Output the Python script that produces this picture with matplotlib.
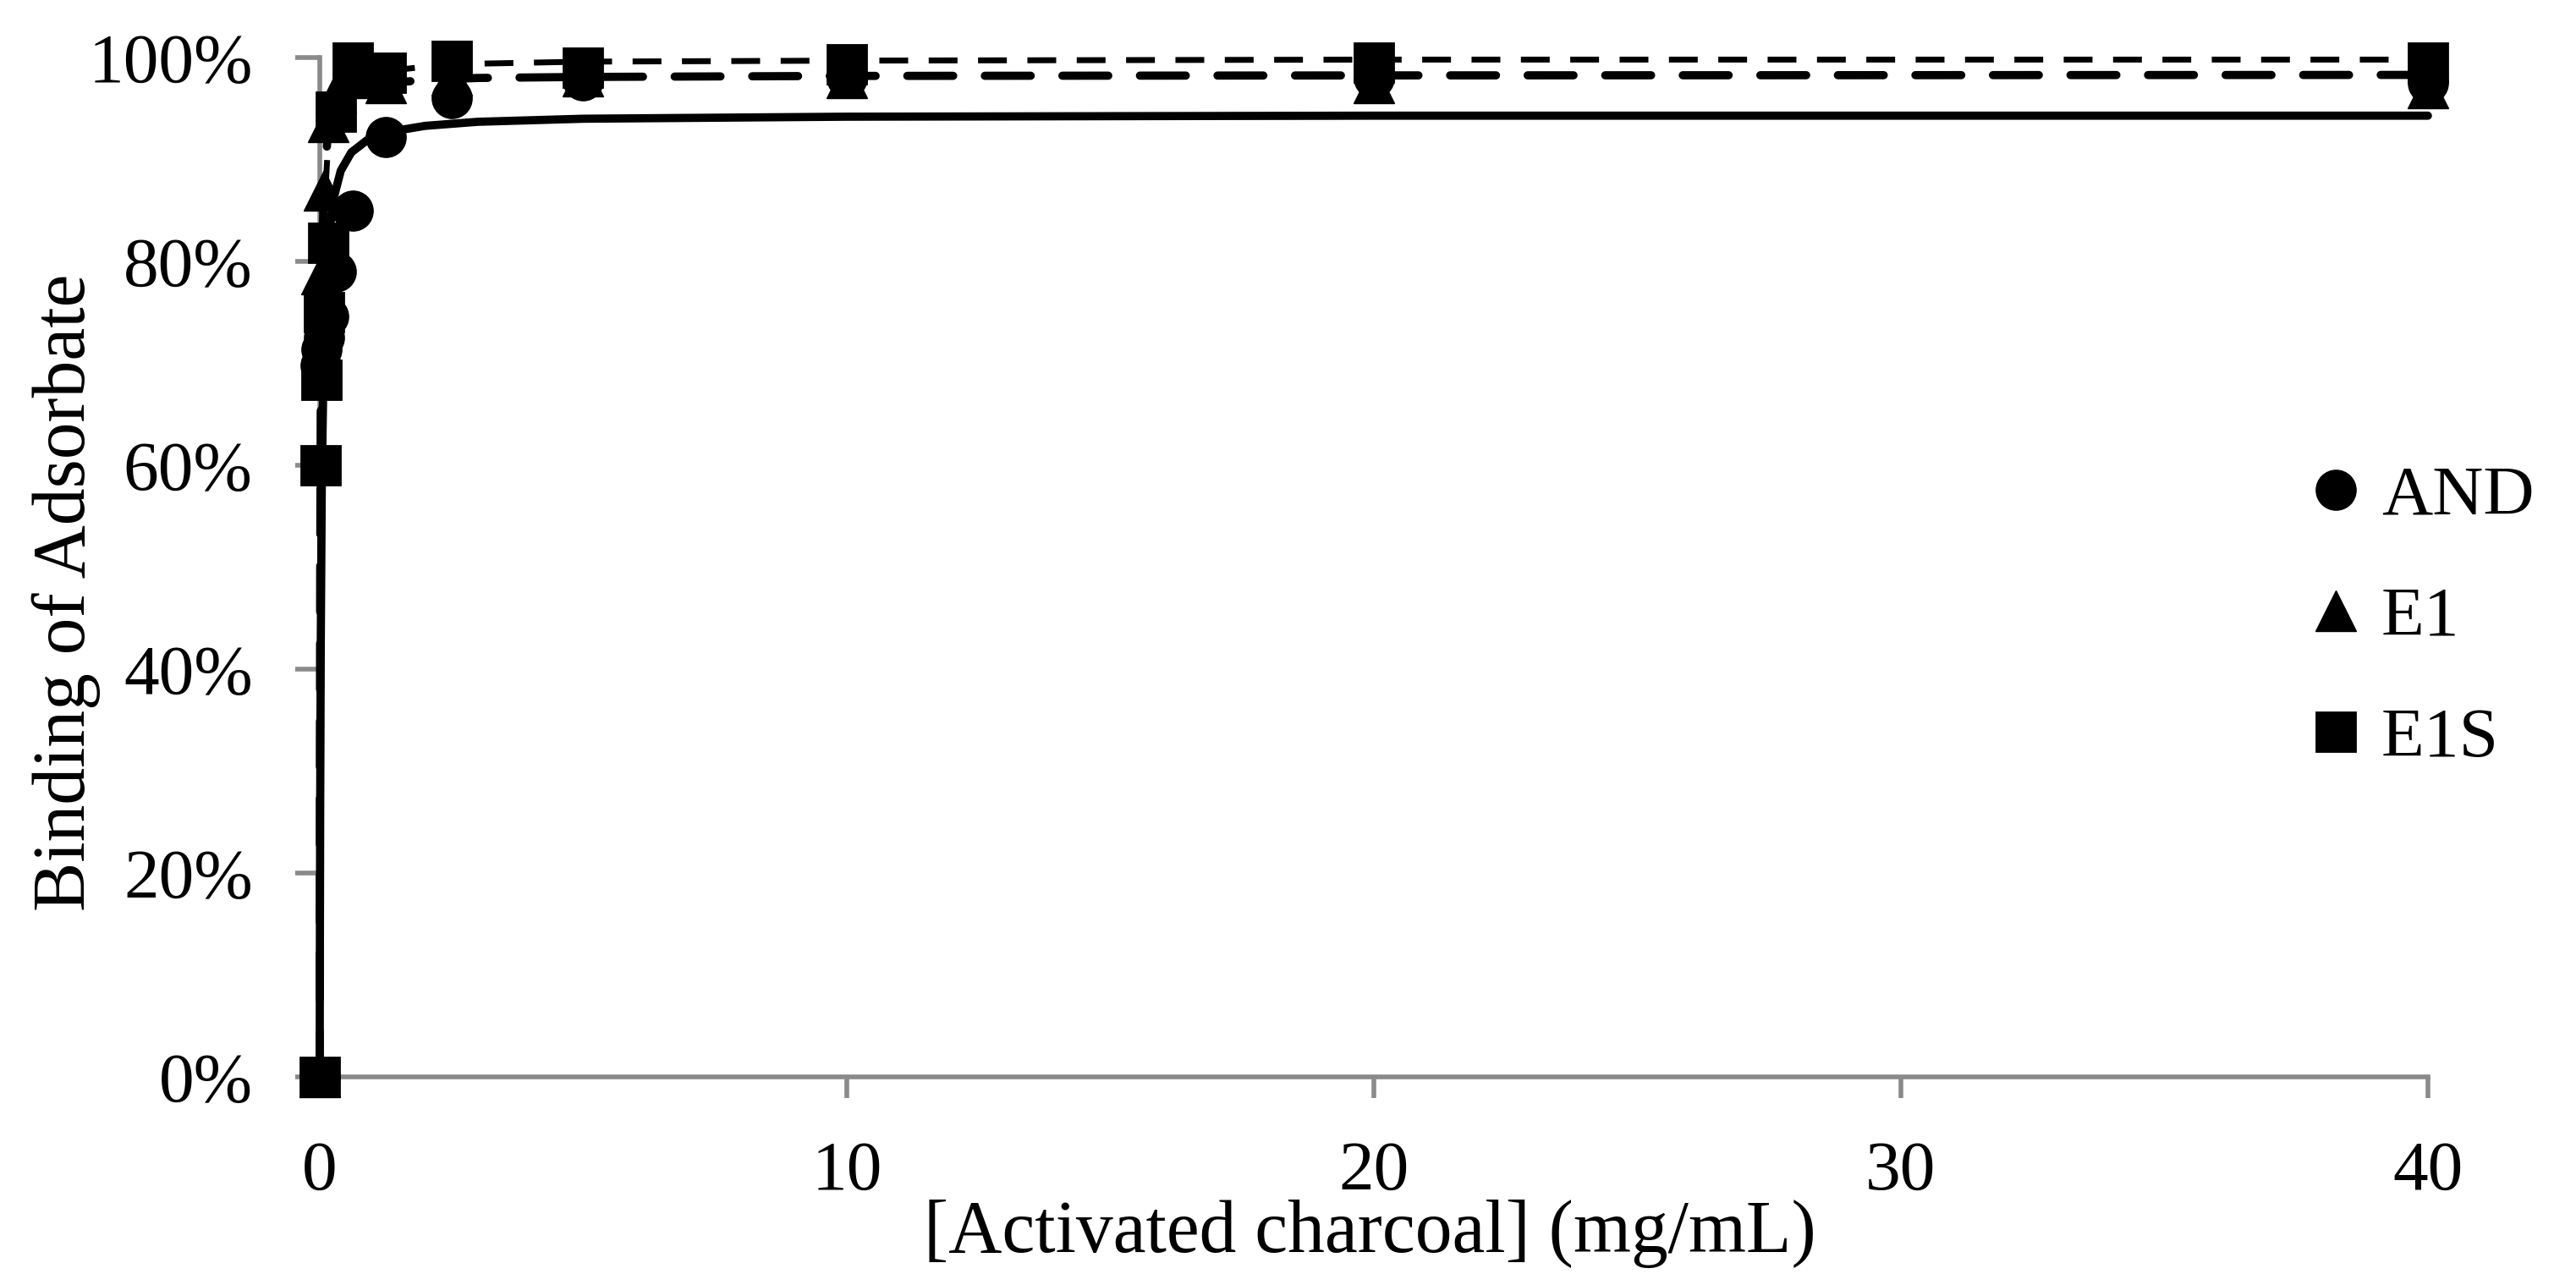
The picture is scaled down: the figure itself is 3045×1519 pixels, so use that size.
import matplotlib
matplotlib.use('Agg')
import matplotlib.pyplot as plt
from matplotlib.ticker import PercentFormatter

plt.rcParams['font.family'] = 'serif'
plt.rcParams['font.serif'] = ['Liberation Serif', 'DejaVu Serif']
plt.rcParams['lines.scale_dashes'] = False

nan = float('nan')

# activated charcoal concentration (mg/mL)
conc = [0, 0.0195, 0.039, 0.078, 0.156, 0.3125, 0.625, 1.25, 2.5, 5, 10, 20, 40]

# % bound
and_pts = [0, 69.8, 71.4, 72.5, 74.6, 79.0, 85.0, 92.2, 96.0, 97.8, 98.0, 98.0, 97.5]
e1_pts = [0, nan, 78.8, 87.0, 93.7, 96.5, 98.0, 97.5, 98.3, 98.2, 98.0, 97.5, 97.0]
e1s_pts = [0, 60.0, 68.4, 75.0, 81.8, 94.7, 99.5, 98.5, 99.7, 99.0, 99.3, 99.5, 99.5]

# fitted curves
fit_x = [0, 0.005, 0.01, 0.02, 0.04, 0.08, 0.15, 0.25, 0.4, 0.6, 0.9, 1.3, 2, 3, 5, 10, 20, 40]
and_fit = [0, 15.8, 27.0, 42.0, 58.2, 72.0, 81.0, 85.9, 88.9, 90.7, 91.9, 92.7, 93.3, 93.7, 94.0, 94.2, 94.3, 94.3]
e1_fit = [0, 32.8, 49.0, 65.5, 78.6, 87.4, 92.2, 94.5, 95.9, 96.7, 97.2, 97.5, 97.8, 98.0, 98.1, 98.2, 98.25, 98.3]
e1s_fit = [0, 25.0, 40.0, 57.0, 72.5, 84.0, 90.8, 94.2, 96.2, 97.4, 98.2, 98.7, 99.1, 99.4, 99.6, 99.7, 99.8, 99.8]

grey = '#8a8a8a'
fs = 60

fig = plt.figure(figsize=(30.45, 15.19), dpi=100)
ax = fig.add_axes([0.1241, 0.1619, 0.8184, 0.7933])

ax.plot(fit_x, and_fit, color='black', lw=7, solid_capstyle='round', clip_on=False, zorder=3)
ax.plot(fit_x, e1_fit, color='black', lw=7, dashes=(39, 27), dash_capstyle='round', clip_on=False, zorder=3)
ax.plot(fit_x, e1s_fit, color='black', lw=5, dashes=(24.5, 17.5), dash_capstyle='butt', clip_on=False, zorder=3)

h1, = ax.plot(conc, and_pts, 'o', ms=34, color='black', mew=1, clip_on=False, label='AND', zorder=4)
h2, = ax.plot(conc, e1_pts, '^', ms=34, color='black', mew=1, clip_on=False, label='E1', zorder=4)
h3, = ax.plot(conc, e1s_pts, 's', ms=33, color='black', mew=2, mec='black', clip_on=False, label='E1S', zorder=4)

ax.set_xlim(0, 40)
ax.set_ylim(0, 100)
ax.set_xticks([0, 10, 20, 30, 40])
ax.set_yticks([0, 20, 40, 60, 80, 100])
ax.yaxis.set_major_formatter(PercentFormatter(xmax=100, decimals=0))

for s in ['top', 'right']:
    ax.spines[s].set_visible(False)
for s in ['left', 'bottom']:
    ax.spines[s].set_color(grey)
    ax.spines[s].set_linewidth(4)

ax.tick_params(axis='y', direction='out', length=21, width=4, color=grey, pad=36, labelsize=fs)
ax.tick_params(axis='x', direction='out', length=18, width=4, color=grey, pad=36.5, labelsize=fs)

ax.set_xlabel('[Activated charcoal] (mg/mL)', fontsize=63)
ax.set_ylabel('Binding of Adsorbate', fontsize=63)
ax.xaxis.set_label_coords(0.498, -0.12)
ax.yaxis.set_label_coords(-0.104, 0.475)

fig.legend(handles=[h1, h2, h3], loc='center left', bbox_to_anchor=(0.893, 0.519),
           frameon=False, handlelength=1.0, handletextpad=0.15, labelspacing=0.8,
           borderpad=0, borderaxespad=0, fontsize=fs, numpoints=1)

fig.savefig('out.png', dpi=100)
